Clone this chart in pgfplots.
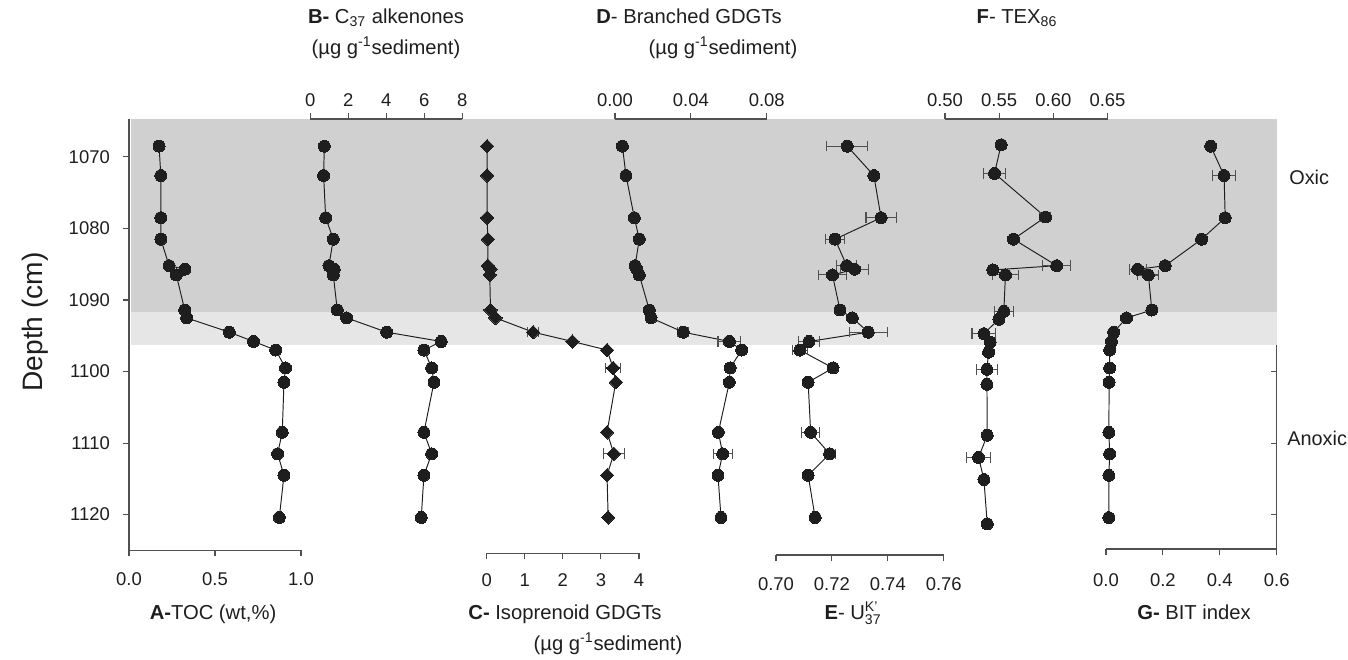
\documentclass[border=0pt]{standalone}
\usepackage{pgfplots}
\usepackage{pgfplotstable}
\pgfplotsset{compat=1.18}
\usepackage{fontspec}
\setmainfont{Liberation Sans}

\definecolor{ink}{HTML}{1E1E1E}
\definecolor{axgray}{HTML}{505050}
\definecolor{oxicgray}{HTML}{D0D0D0}
\definecolor{transgray}{HTML}{E6E6E6}

% depth (cm), proxies A-G, e* = half width of the error bar
\pgfplotstableread{
d      A     B    eB   C    eC   D      eD    E      eE     dF     F      eF     G     eG
1068.5 0.175 0.74 0    0.01 0    0.0039 0     0.7255 0.0074 1068.3 0.5518 0      0.368 0
1072.6 0.185 0.70 0    0.01 0    0.0058 0     0.7350 0      1072.3 0.5457 0.010  0.415 0.040
1078.5 0.185 0.81 0    0.01 0    0.0102 0     0.7376 0.0054 1078.4 0.5927 0.005  0.419 0
1081.5 0.185 1.21 0.10 0.03 0    0.0128 0     0.7211 0.0035 1081.5 0.5632 0      0.336 0.012
1085.2 0.233 0.98 0    0.03 0    0.0106 0     0.7253 0.0036 1085.2 0.6031 0.013  0.208 0
1085.7 0.325 1.26 0    0.10 0    0.0115 0     0.7281 0.0050 1085.8 0.5442 0      0.111 0.030
1086.5 0.275 1.21 0    0.08 0    0.0128 0     0.7202 0.0050 1086.5 0.5558 0.012  0.149 0.037
1091.4 0.324 1.42 0    0.10 0    0.0181 0     0.7229 0.0010 1091.6 0.5543 0.009  0.161 0
1092.5 0.335 1.91 0    0.23 0    0.0190 0     0.7273 0      1092.7 0.5497 0      0.072 0
1094.5 0.583 4.02 0    1.22 0.15 0.0360 0.003 0.7330 0.0068 1094.7 0.5359 0.011  0.027 0
1095.8 0.724 6.89 0    2.25 0    0.0603 0.006 0.7118 0.0036 1095.9 0.5417 0      0.019 0
1097.0 0.853 5.98 0.10 3.16 0    0.0668 0     0.7085 0.0026 1097.3 0.5402 0      0.013 0
1099.5 0.910 6.39 0    3.32 0.20 0.0607 0.002 0.7204 0      1099.7 0.5387 0.0097 0.013 0
1101.5 0.901 6.51 0.10 3.39 0    0.0603 0     0.7115 0      1101.8 0.5387 0      0.011 0
1108.5 0.891 5.98 0    3.16 0    0.0545 0     0.7124 0.0033 1108.9 0.5390 0      0.010 0
1111.5 0.864 6.39 0    3.34 0.27 0.0568 0.005 0.7192 0.0020 1112.0 0.5310 0.011  0.013 0
1114.5 0.901 5.98 0    3.16 0    0.0543 0     0.7115 0      1115.1 0.5359 0      0.010 0
1120.4 0.874 5.84 0    3.19 0    0.0559 0     0.7140 0      1121.3 0.5390 0      0.010 0
}\core

\newcommand{\tfont}{\fontsize{11.5}{14}\selectfont}

\pgfplotsset{
  panel/.style={
    scale only axis, anchor=north west, y dir=reverse, clip=false,
    enlargelimits=false, ymin=1064.7, scaled x ticks=false,
    axis line style={axgray, line width=0.6pt},
    tick style={axgray, line width=0.6pt},
    major tick length=0.12cm, tick align=outside,
    tick label style={font=\fontsize{10.5}{12}\selectfont, text=ink},
    /pgf/number format/assume math mode=true,
    /pgf/number format/1000 sep={},
  },
  onlyx/.style={axis y line=none, ytick=\empty},
  prec/.style={xticklabel style={/pgf/number format/fixed, /pgf/number format/fixed zerofill, /pgf/number format/precision=#1}},
  dots/.style={ink, line width=0.55pt, mark=*, mark size=3.4pt,
    mark options={solid, fill=ink, draw=ink, line width=0pt},
    error bars/x dir=both, error bars/x explicit,
    error bars/error bar style={axgray, line width=0.6pt},
    error bars/error mark options={rotate=90, mark size=3pt, axgray, line width=0.6pt}},
  diamonds/.style={dots, mark=square*, mark size=2.7pt,
    mark options={rotate=45, solid, fill=ink, draw=ink, line width=0pt}},
}

\begin{document}
\begin{tikzpicture}
\useasboundingbox (0,0) rectangle (26.96,-13.18);

% oxic / transition zones and the right depth axis
\begin{axis}[panel, at={(2.62cm,-2.38cm)}, width=22.914cm, height=8.627cm,
  xmin=0, xmax=1, ymax=1125, hide x axis, axis y line*=right,
  ytick={1070,1080,...,1120}, yticklabels={}, tick align=inside]
  \addplot[draw=none, fill=oxicgray] coordinates {(0,1064.7) (1,1064.7) (1,1091.67) (0,1091.67)};
  \addplot[draw=none, fill=transgray] coordinates {(0,1091.67) (1,1091.67) (1,1096.23) (0,1096.23)};
\end{axis}

% A - TOC
\begin{axis}[panel, at={(2.58cm,-2.38cm)}, width=3.44cm, height=8.627cm,
  xmin=0, xmax=1, ymax=1125, axis x line*=bottom, axis y line*=left,
  xtick={0,0.5,1}, ytick={1070,1080,...,1120}, prec=1,
  xticklabel style={yshift=-0.2cm}, yticklabel style={xshift=-0.14cm}]
  \addplot[dots] table[x=A, y=d] {\core};
\end{axis}

% B - C37 alkenones
\begin{axis}[panel, onlyx, at={(6.206cm,-2.38cm)}, width=3.04cm, height=8.627cm,
  xmin=0, xmax=8, ymax=1125, axis x line*=top, xtick={0,2,...,8}]
  \addplot[dots] table[x=B, y=d, x error=eB] {\core};
\end{axis}

% C - isoprenoid GDGTs
\begin{axis}[panel, onlyx, at={(9.734cm,-2.38cm)}, width=3.046cm, height=8.686cm,
  xmin=0, xmax=4, ymax=1125.42, axis x line*=bottom, xtick={0,1,...,4},
  xticklabel style={yshift=-0.16cm}]
  \addplot[diamonds] table[x=C, y=d, x error=eC] {\core};
\end{axis}

% D - branched GDGTs
\begin{axis}[panel, onlyx, at={(12.30cm,-2.38cm)}, width=3.034cm, height=8.627cm,
  xmin=0, xmax=0.08, ymax=1125, axis x line*=top, xtick={0,0.04,0.08}, prec=2]
  \addplot[dots] table[x=D, y=d, x error=eD] {\core};
\end{axis}

% E - UK'37
\begin{axis}[panel, onlyx, at={(15.52cm,-2.38cm)}, width=3.354cm, height=8.72cm,
  xmin=0.70, xmax=0.76, ymax=1125.65, axis x line*=bottom,
  xtick={0.70,0.72,0.74,0.76}, prec=2, xticklabel style={yshift=-0.2cm}]
  \addplot[dots] table[x=E, y=d, x error=eE] {\core};
\end{axis}

% F - TEX86
\begin{axis}[panel, onlyx, at={(18.90cm,-2.38cm)}, width=3.25cm, height=8.627cm,
  xmin=0.50, xmax=0.65, ymax=1125, axis x line*=top,
  xtick={0.50,0.55,0.60,0.65}, prec=2]
  \addplot[dots] table[x=F, y=dF, x error=eF] {\core};
\end{axis}

% G - BIT index
\begin{axis}[panel, onlyx, at={(22.12cm,-2.38cm)}, width=3.414cm, height=8.6cm,
  xmin=0, xmax=0.6, ymax=1124.8, axis x line*=bottom,
  xtick={0,0.2,0.4,0.6}, prec=1, xticklabel style={yshift=-0.25cm}]
  \addplot[dots] table[x=G, y=d, x error=eG] {\core};
\end{axis}

\node[font=\fontsize{16}{19}\selectfont, text=ink, rotate=90] at (0.70,-6.44) {Depth (cm)};

\node[font=\tfont, text=ink, anchor=base] at (4.26,-12.38) {\textbf{A-}TOC (wt,\%)};
\node[font=\tfont, text=ink, anchor=base] at (7.72,-0.46) {\textbf{B-} C\textsubscript{37} alkenones};
\node[font=\tfont, text=ink, anchor=base] at (7.72,-1.08) {(µg g\textsuperscript{-1}sediment)};
\node[font=\tfont, text=ink, anchor=base] at (11.30,-12.38) {\textbf{C-} Isoprenoid GDGTs};
\node[font=\tfont, text=ink, anchor=base] at (12.16,-13.00) {(µg g\textsuperscript{-1}sediment)};
\node[font=\tfont, text=ink, anchor=base] at (13.78,-0.46) {\textbf{D}- Branched GDGTs};
\node[font=\tfont, text=ink, anchor=base] at (14.46,-1.08) {(µg g\textsuperscript{-1}sediment)};
\node[font=\tfont, text=ink, anchor=base] at (17.06,-12.38) {\textbf{E}- U$^{\mbox{\fontsize{8}{9}\selectfont K'}}_{\mbox{\fontsize{8}{9}\selectfont 37}}$};
\node[font=\tfont, text=ink, anchor=base] at (20.34,-0.46) {\textbf{F}- TEX\textsubscript{86}};
\node[font=\tfont, text=ink, anchor=base] at (23.88,-12.38) {\textbf{G-} BIT index};

\node[font=\fontsize{11.3}{14}\selectfont, text=ink, anchor=west, inner sep=0pt] at (25.78,-3.54) {Oxic};
\node[font=\fontsize{11.3}{14}\selectfont, text=ink, anchor=west, inner sep=0pt] at (25.74,-8.76) {Anoxic};
\end{tikzpicture}
\end{document}
